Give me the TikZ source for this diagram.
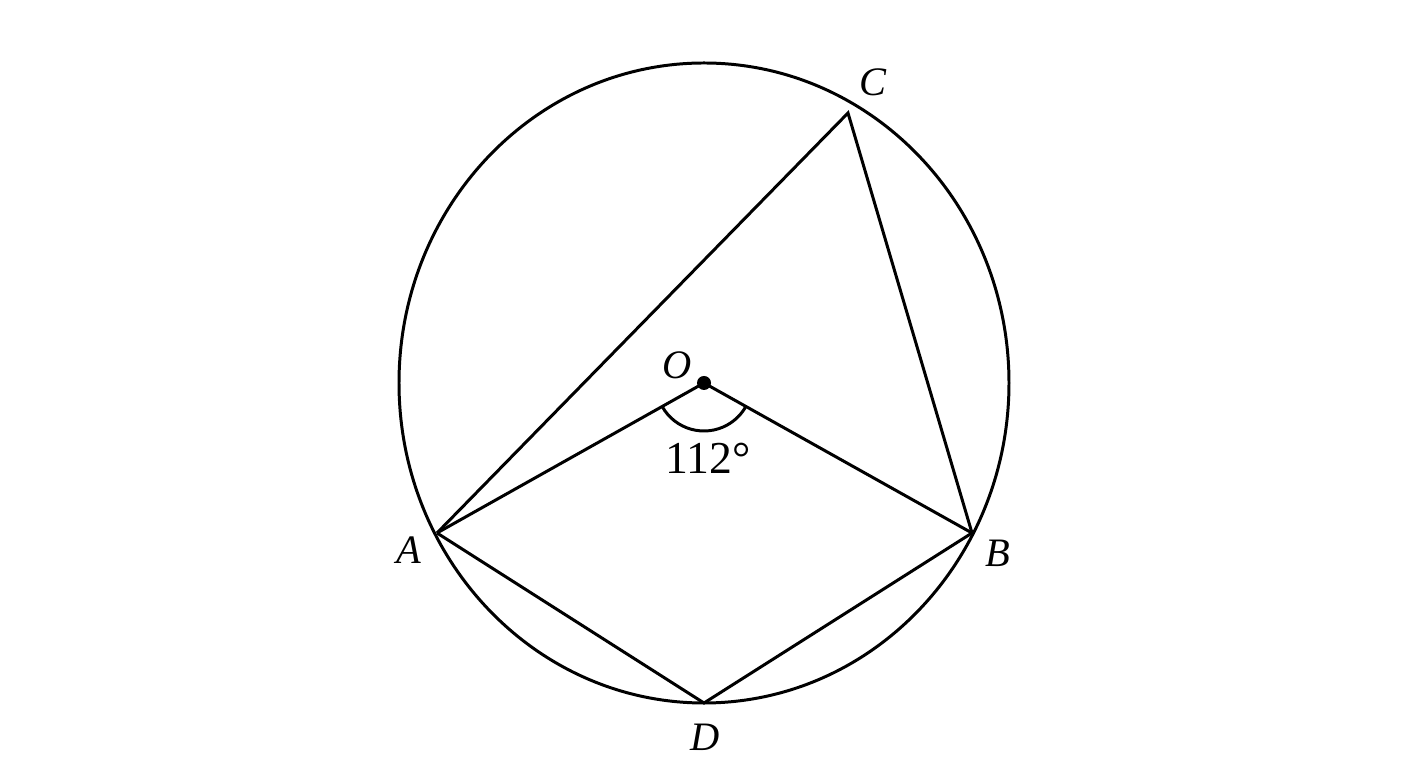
\documentclass[tikz,border=0pt]{standalone}
\usepackage{fontspec}
\setmainfont{Liberation Serif}
\usepackage{tikz}
\usetikzlibrary{positioning}

\begin{document}
\begin{tikzpicture}[
    pt/.style={coordinate},
    lbl/.style={font=\fontsize{11.5}{13}\selectfont\itshape, inner sep=0pt},
    num/.style={font=\fontsize{13}{15}\selectfont, inner sep=0pt},
    edge/.style={line width=0.85pt}
]
\useasboundingbox (0,0) rectangle (14.08,7.68);

% Circle and points
\coordinate (O) at (7.04,3.85);
\draw[edge] (O) ellipse [x radius=3.05, y radius=3.20];
\node[pt] (A) at (4.37,2.35) {};
\node[pt] (B) at (9.72,2.35) {};
\node[pt] (C) at (8.48,6.55) {};
\node[pt] (D) at (7.04,0.65) {};

% Chords and radii
\draw[edge, line join=miter] (A) -- (C) -- (B);
\draw[edge] (A) -- (O) -- (B);
\draw[edge] (A) -- (D) -- (B);

% Angle at centre
\draw[edge] ([shift={(209.3:0.48)}]O) arc[start angle=209.3, end angle=330.7, radius=0.48];
\fill (O) circle (0.07);

% Labels
\node[lbl] (lA) at (4.09,2.18) {A};
\node[lbl] (lB) at (9.98,2.15) {B};
\node[lbl] (lC) at (8.73,6.86) {C};
\node[lbl] (lD) at (7.05,0.31) {D};
\node[lbl] (lO) at (6.77,4.03) {O};
\node[num] (ang) at (7.08,3.10) {112°};

\end{tikzpicture}
\end{document}
